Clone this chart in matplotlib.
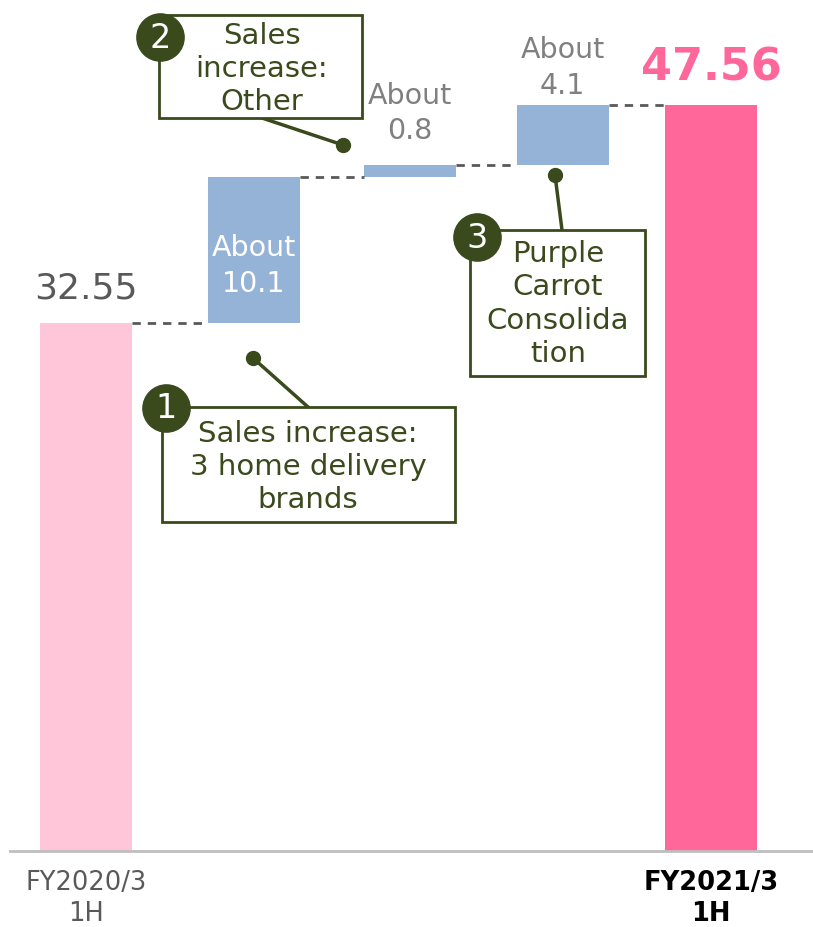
import matplotlib.pyplot as plt
from matplotlib.lines import Line2D
from matplotlib.patches import Rectangle

# Waterfall data (billion yen)
start_label = "FY2020/3\n1H"
end_label = "FY2021/3\n1H"
start_value = 32.55
end_value = 47.56
step_values = [10.1, 0.8, 4.1]
step_labels = ["About\n10.1", "About\n0.8", "About\n4.1"]
notes = ["Sales increase:\n3 home delivery\nbrands",
         "Sales\nincrease:\nOther",
         "Purple\nCarrot\nConsolida\ntion"]

W, H = 813, 927
olive = '#3A4A1C'
y_floor = -3.8  # the source axis does not start at zero

fig = plt.figure(figsize=(W / 100, H / 100), dpi=100)
ax = fig.add_axes([10 / W, 1 - 851 / H, 803 / W, 851 / H])

# bar slots are slightly uneven in the source slide
x = [0, 1.074, 2.074, 3.054, 4.006]
width = 0.59

# start / end bars
ax.bar(x[0], start_value - y_floor, bottom=y_floor, width=width, color='#FFC5D9')
ax.bar(x[-1], end_value - y_floor, bottom=y_floor, width=width, color='#FF6699')

# steps
level = start_value
for i, v in enumerate(step_values):
    xi = x[i + 1]
    ax.bar(xi, v, bottom=level, width=width, color='#95B3D7')
    ax.plot([x[i] + width / 2, xi - width / 2], [level, level],
            ls=(0, (3, 2.5)), color='#595959', lw=2)
    level += v
ax.plot([x[-2] + width / 2, x[-1] - width / 2], [level, level],
        ls=(0, (3, 2.5)), color='#595959', lw=2)

# value labels
ax.text(x[0], start_value + 1.2, f"{start_value:.2f}", ha='center', va='bottom',
        fontsize=26, color='#595959')
ax.text(x[-1], end_value + 1.1, f"{end_value:.2f}", ha='center', va='bottom',
        fontsize=32, fontweight='bold', color='#FF6699')
ax.text(x[1], start_value + step_values[0] / 2 - 1.1, step_labels[0], ha='center',
        va='center', fontsize=20.5, color='white', linespacing=1.35)
level = start_value + step_values[0]
offsets = [1.35, 0.4]
for i in (1, 2):
    ax.text(x[i + 1], level + step_values[i] + offsets[i - 1], step_labels[i],
            ha='center', va='bottom', fontsize=20.5, color='#808080', linespacing=1.35)
    level += step_values[i]

ax.set_xlim(-0.49, 4.66)
ax.set_ylim(y_floor, y_floor + 851 / 14.52)
ax.set_xticks([x[0], x[-1]])
ax.set_xticklabels([start_label, end_label], fontsize=18.5, linespacing=1.22)
ax.get_xticklabels()[0].set_color('#595959')
ax.get_xticklabels()[1].set_fontweight('bold')
ax.tick_params(axis='x', length=0, pad=14)
ax.set_yticks([])
for s in ['left', 'right', 'top']:
    ax.spines[s].set_visible(False)
ax.spines['bottom'].set_color('#BFBFBF')
ax.spines['bottom'].set_linewidth(2)


def fx(px):
    return px / W


def fy(py):
    return 1 - py / H


def callout(box, text_xy, num, num_xy, line_from, dot_xy, text):
    x0, y0, x1, y1 = box
    fig.add_artist(Rectangle((fx(x0), fy(y1)), fx(x1 - x0), (y1 - y0) / H,
                             transform=fig.transFigure, facecolor='white',
                             edgecolor=olive, lw=2, zorder=3))
    fig.text(fx(text_xy[0]), fy(text_xy[1]), text, ha='center', va='center',
             fontsize=21, color=olive, linespacing=1.23, zorder=4)
    fig.add_artist(Line2D([fx(line_from[0]), fx(dot_xy[0])],
                          [fy(line_from[1]), fy(dot_xy[1])],
                          transform=fig.transFigure, color=olive, lw=2.5, zorder=2))
    fig.add_artist(Line2D([fx(dot_xy[0])], [fy(dot_xy[1])], transform=fig.transFigure,
                          marker='o', markersize=10, color=olive, zorder=2))
    fig.add_artist(Line2D([fx(num_xy[0])], [fy(num_xy[1])], transform=fig.transFigure,
                          marker='o', markersize=34, color=olive, zorder=5))
    fig.text(fx(num_xy[0]), fy(num_xy[1] + 1), str(num), ha='center', va='center',
             fontsize=24, color='white', zorder=6)


callout((162, 407, 455, 522), (308, 467), 1, (166, 408), (308, 407), (253, 358), notes[0])
callout((159, 15, 362, 118), (262, 69), 2, (160, 37), (262, 118), (343, 145), notes[1])
callout((470, 230, 645, 376), (558, 304), 3, (477, 237), (562, 230), (555, 175), notes[2])

fig.savefig('out.png', dpi=100)
